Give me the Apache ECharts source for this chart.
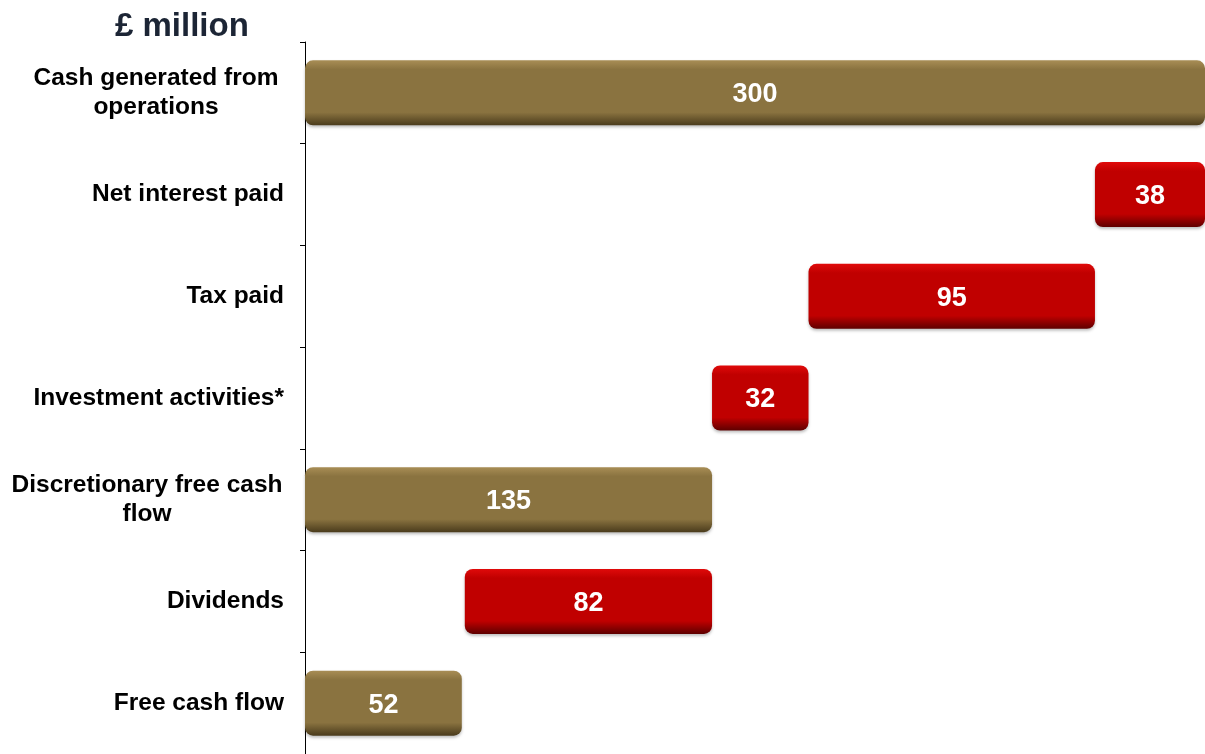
<!DOCTYPE html>
<html>
<head>
<meta charset="utf-8">
<script src="https://cdn.jsdelivr.net/npm/echarts@6/dist/echarts.min.js"></script>
<style>
  html, body { margin: 0; padding: 0; background: #fff; }
  #chart { width: 1205px; height: 754px; }
</style>
</head>
<body>
<div id="chart"></div>
<script>
// 类目与数值
const categories = ['Cash generated from\noperations', 'Net interest paid', 'Tax paid', 'Investment activities*', 'Discretionary free cash\nflow', 'Dividends', 'Free cash flow'];
const values = [300, 38, 95, 32, 135, 82, 52];
const kinds = ['total', 'out', 'out', 'out', 'total', 'out', 'total'];
const baseStarts = [0, null, null, null, 0, 53, 0]; // dividends start

const gold = { light: '#a88d55', mid: '#8a7340', dark: '#4a3b1c' };
const red = { light: '#e00a0a', mid: '#c00000', dark: '#5e0000' };

function barFill(c) {
    return new echarts.graphic.LinearGradient(0, 0, 0, 1, [
        { offset: 0, color: c.light },
        { offset: 0.14, color: c.mid },
        { offset: 0.8, color: c.mid },
        { offset: 1, color: c.dark }
    ]);
}

// 瀑布图底座
let running = 0;
let bases = [];
for (let i = 0; i < values.length; i++) {
    if (kinds[i] == 'total') {
        bases.push(baseStarts[i]);
        running = values[i];
    } else {
        running = running - values[i];
        bases.push(baseStarts[i] != null ? baseStarts[i] : running);
    }
}

let barData = [];
for (let i = 0; i < values.length; i++) {
    barData.push({
        value: values[i],
        itemStyle: { color: barFill(kinds[i] == 'total' ? gold : red) }
    });
}

const labelFont = { fontFamily: 'Liberation Sans', fontWeight: 'bold', fontSize: 24.5, lineHeight: 29, color: '#000' };

const option = {
    animation: false,
    title: {
        text: '£ million',
        left: 110,
        top: 5,
        textStyle: { fontFamily: 'Liberation Sans', fontWeight: 'bold', fontSize: 33, color: '#1c2535' }
    },
    grid: { left: 305, right: 0, top: 42, height: 716 },
    xAxis: { type: 'value', min: 0, max: 298.5, show: false },
    yAxis: {
        type: 'category',
        inverse: true,
        data: categories,
        axisLine: { show: true, lineStyle: { color: '#000', width: 1 } },
        axisTick: { show: true, inside: false, length: 5, lineStyle: { color: '#000', width: 1 } },
        axisLabel: Object.assign({
            margin: 21,
            formatter: function (v) {
                if (v.indexOf('\n') < 0) return v;
                let key = v.indexOf('Discretionary') == 0 ? 'b' : 'a';
                return v.split('\n').map(function (s) { return '{' + key + '|' + s + '}'; }).join('\n');
            },
            rich: {
                a: Object.assign({ width: 256, align: 'center' }, labelFont),
                b: Object.assign({ width: 274, align: 'center' }, labelFont)
            }
        }, labelFont)
    },
    series: [{
        type: 'bar',
        stack: 'w',
        silent: true,
        barWidth: 65,
        itemStyle: { color: 'transparent' },
        data: bases
    }, {
        type: 'bar',
        stack: 'w',
        barWidth: 65,
        itemStyle: {
            borderRadius: 8,
            shadowColor: 'rgba(0,0,0,0.25)',
            shadowBlur: 3,
            shadowOffsetY: 2
        },
        label: {
            show: true,
            position: 'inside',
            offset: [0, 2],
            color: '#fff',
            fontFamily: 'Liberation Sans',
            fontWeight: 'bold',
            fontSize: 27
        },
        data: barData
    }]
};

echarts.init(document.getElementById('chart')).setOption(option);
</script>
</body>
</html>
